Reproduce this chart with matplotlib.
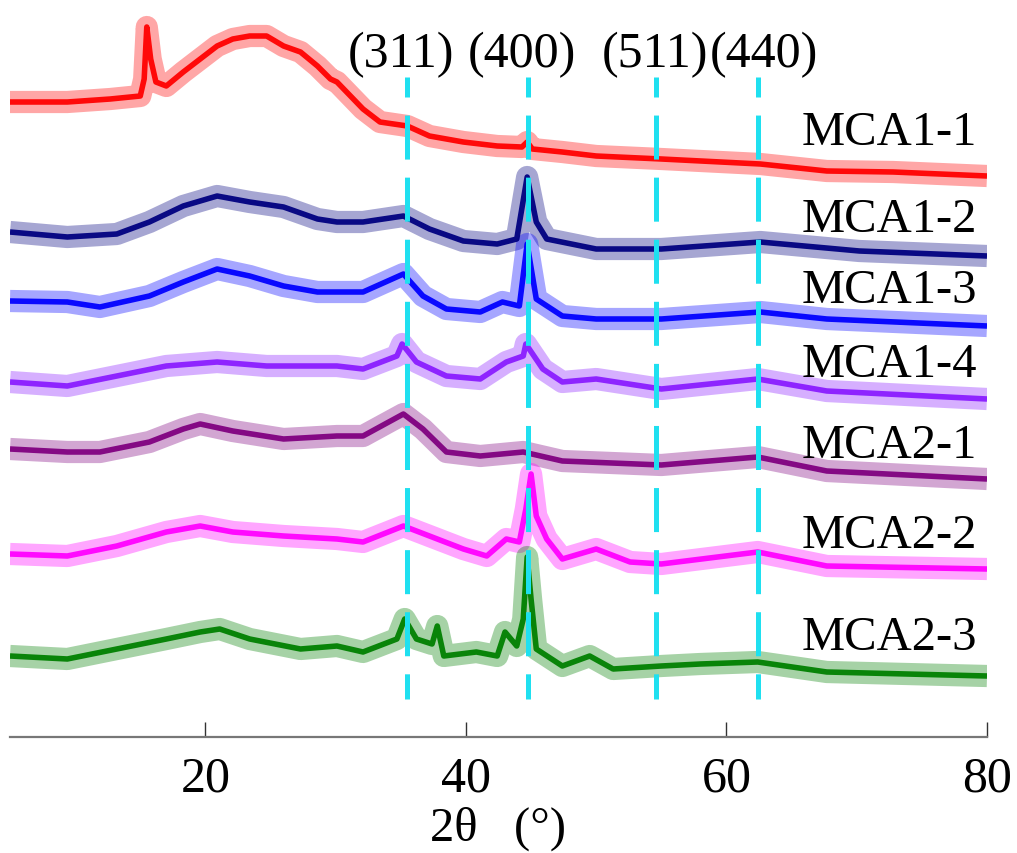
import matplotlib
matplotlib.use('Agg')
import matplotlib.pyplot as plt

plt.rcParams['font.family'] = ['Liberation Serif', 'DejaVu Serif']
plt.rcParams['lines.scale_dashes'] = False

# ---------------- data (2θ in degrees, intensity in offset a.u.) ----------------
x_mca11 = [5, 9.4, 12.7, 15, 15.3, 15.5, 15.8, 16.2, 17, 18.3, 19.6, 20.9, 22.1, 23.4, 24.7, 26, 27.3,
           28.6, 29.6, 30.1, 32.1, 33.4, 35.5, 37.2, 39.8, 42.4, 44.3, 44.7, 45.1, 47.4, 50, 55, 62.6,
           67.7, 72.8, 80]
y_mca11 = [635, 635, 638, 641, 658, 710, 678, 655, 651, 665, 678, 691, 698, 701, 701, 691, 685,
           671, 658, 655, 628, 615, 611, 601, 595, 591, 590, 595, 588, 585, 581, 578, 573,
           566, 565, 561]

x_mca12 = [5, 9.4, 13.2, 15.7, 18.3, 20.9, 23.4, 26, 28.6, 30.1, 32.1, 35.2, 37.2, 39.8, 42.4, 43.9,
           44.7, 45.4, 46.2, 50, 55, 62.6, 70.2, 80]
y_mca12 = [505, 500, 503, 515, 531, 541, 535, 530, 518, 515, 515, 521, 508, 496, 493, 498,
           560, 515, 498, 488, 488, 495, 486, 481]

x_mca13 = [5, 9.4, 11.9, 15.7, 18.3, 20.9, 23.4, 26, 28.6, 30.1, 32.1, 35.2, 36.7, 38.5, 41.1, 42.8,
           44.1, 44.7, 45.4, 47.4, 50, 55, 62.6, 67.7, 80]
y_mca13 = [436, 435, 430, 441, 455, 468, 461, 451, 445, 445, 445, 463, 441, 428, 425, 435,
           431, 493, 438, 421, 418, 418, 425, 418, 411]

x_mca14 = [5, 9.4, 13.2, 17, 20.9, 24.7, 30.1, 32.1, 34.7, 35.1, 36.2, 38.5, 41.1, 43.1, 44.4, 44.6,
           45.9, 47.4, 50, 55, 62.4, 67.7, 80]
y_mca14 = [355, 351, 361, 371, 375, 371, 371, 368, 381, 393, 375, 361, 358, 375, 381, 393,
           368, 355, 358, 348, 358, 346, 338]

x_mca21 = [5, 9.4, 11.9, 15.7, 18.3, 19.6, 22.1, 26, 30.1, 32.1, 35.2, 36.7, 38.5, 41.1, 44.4, 47.4,
           55, 62.4, 67.7, 80]
y_mca21 = [288, 285, 285, 295, 308, 313, 306, 298, 301, 301, 323, 308, 285, 281, 285, 276,
           272, 280, 266, 258]

x_mca22 = [5, 9.4, 13.2, 17, 19.6, 22.1, 26, 30.1, 32.1, 35.2, 37.2, 39.8, 41.6, 43.1, 44.1, 44.6,
           45.0, 45.4, 46.2, 47.4, 50, 52.6, 55, 62.4, 67.7, 80]
y_mca22 = [183, 181, 191, 205, 211, 205, 201, 198, 195, 211, 201, 188, 181, 198, 195, 228,
           263, 221, 198, 178, 188, 175, 173, 185, 171, 168]

x_mca23 = [5, 9.4, 13.2, 17, 19.6, 21.1, 23.4, 27.3, 30.1, 32.1, 34.7, 35.3, 36.2, 37.4, 37.8, 38.3,
           40.8, 42.4, 43.0, 43.9, 44.4, 44.7, 45.0, 45.4, 47.4, 49.5, 51.3, 55, 58, 62.4, 67.7, 80]
y_mca23 = [81, 78, 88, 98, 105, 108, 98, 88, 91, 85, 98, 118, 98, 93, 111, 81,
           85, 81, 105, 91, 118, 180, 138, 88, 71, 81, 68, 71, 73, 75, 65, 61]

sample_names = ['MCA1-1', 'MCA1-2', 'MCA1-3', 'MCA1-4', 'MCA2-1', 'MCA2-2', 'MCA2-3']
label_y = [593, 506, 435, 361, 280, 190, 88]

peak_pos = [35.5, 44.8, 54.6, 62.4]
peak_labels = ['(311)', '(400)', '(511)', '(440)']
peak_label_x = [35.0, 44.3, 54.5, 62.9]

xticks = [20, 40, 60, 80]

# ---------------- figure ----------------
colors = ['#ff0000', '#000080', '#0000ff', '#8a1cff', '#800080', '#ff00ff', '#008000']
series = [(x_mca11, y_mca11), (x_mca12, y_mca12), (x_mca13, y_mca13), (x_mca14, y_mca14),
          (x_mca21, y_mca21), (x_mca22, y_mca22), (x_mca23, y_mca23)]

fig = plt.figure(figsize=(10.17, 8.54), dpi=100)
ax = fig.add_axes([10 / 1017, 116 / 854, 977 / 1017, 738 / 854])

for (xs, ys), c in zip(series, colors):
    ax.plot(xs, ys, color=c, lw=16, alpha=0.35, solid_joinstyle='round', solid_capstyle='butt', zorder=2)
    ax.plot(xs, ys, color=c, lw=4.0, alpha=0.95, solid_joinstyle='round', solid_capstyle='butt', zorder=3)

for p in peak_pos:
    ax.plot([p, p], [660, 38], color='#1fe0f0', lw=3.6, linestyle=(17.3, (31.7, 13.0)),
            solid_capstyle='butt', dash_capstyle='butt', zorder=4)

for name, yy in zip(sample_names, label_y):
    ax.text(65.8, yy, name, fontsize=35, ha='left', va='baseline', color='black', zorder=5)

for lab, xx in zip(peak_labels, peak_label_x):
    ax.text(xx, 671, lab, fontsize=36, ha='center', va='baseline', color='black', zorder=5)

ax.set_xlim(5, 80)
ax.set_ylim(0, 738)
ax.set_xticks(xticks)
ax.set_xticklabels([str(t) for t in xticks])
ax.set_yticks([])
for s in ['top', 'right', 'left']:
    ax.spines[s].set_visible(False)
ax.spines['bottom'].set_color('#777777')
ax.spines['bottom'].set_linewidth(1.6)
ax.tick_params(axis='x', direction='in', length=11, width=1.0, color='#333333',
               labelsize=36, pad=13)
ax.set_xlabel('2θ   (°)', fontsize=35, labelpad=3)
ax.patch.set_alpha(0)

fig.savefig('out.png', dpi=100)
